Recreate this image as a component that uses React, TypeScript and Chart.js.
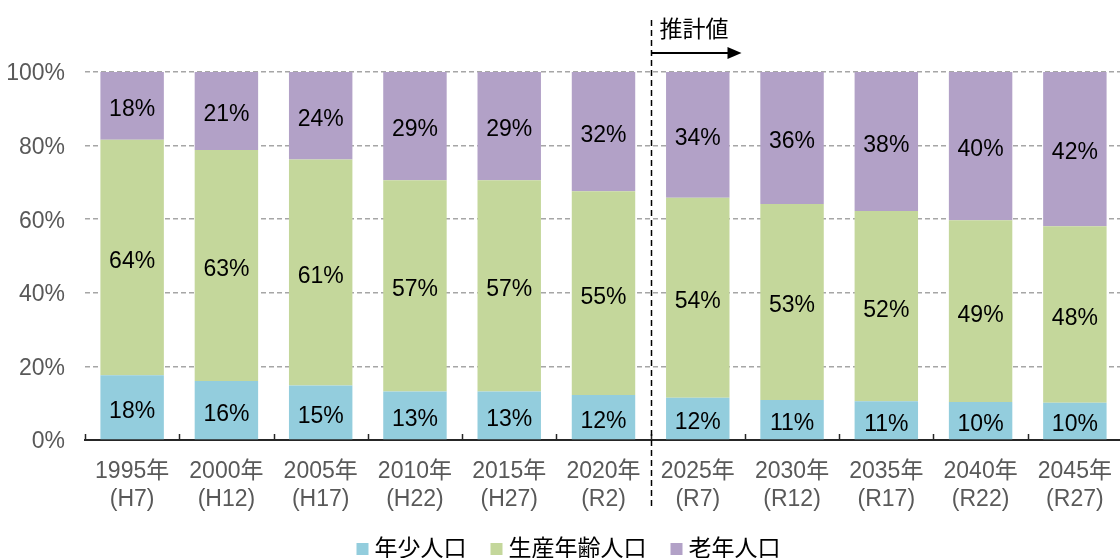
import React, { useEffect, useRef } from "react";
import { Chart, registerables } from "chart.js";

Chart.register(...registerables);

const categories: string[][] = [
  ["1995年", "(H7)"],
  ["2000年", "(H12)"],
  ["2005年", "(H17)"],
  ["2010年", "(H22)"],
  ["2015年", "(H27)"],
  ["2020年", "(R2)"],
  ["2025年", "(R7)"],
  ["2030年", "(R12)"],
  ["2035年", "(R17)"],
  ["2040年", "(R22)"],
  ["2045年", "(R27)"],
];
const youngValues = [17.6, 16.0, 14.8, 13.2, 13.2, 12.2, 11.5, 10.9, 10.5, 10.3, 10.1];
const workingValues = [64.0, 62.8, 61.4, 57.4, 57.4, 55.4, 54.3, 53.2, 51.7, 49.4, 48.0];
const elderlyValues = [18.4, 21.2, 23.8, 29.4, 29.4, 32.4, 34.2, 35.9, 37.8, 40.3, 41.9];
const seriesNames = ["年少人口", "生産年齢人口", "老年人口"];
const seriesColors = ["#93CDDD", "#C4D79B", "#B2A1C7"];
const yTickStep = 20;
const yMax = 100;
const estimateLabel = "推計値";
const estimateStartIndex = 6;

const FONT = "'Liberation Sans', Arial, 'Noto Sans CJK JP', sans-serif";

const overlayPlugin = {
  id: "overlay",
  afterDatasetsDraw(chart: any) {
    const ctx = chart.ctx;
    ctx.save();
    ctx.font = `23px ${FONT}`;
    ctx.fillStyle = "#000000";
    ctx.textAlign = "center";
    ctx.textBaseline = "middle";
    chart.data.datasets.forEach((ds: any, i: number) => {
      const meta = chart.getDatasetMeta(i);
      meta.data.forEach((bar: any, j: number) => {
        const p = bar.getProps(["x", "y", "base"], true);
        const v = ds.data[j];
        ctx.fillText(Math.round(v) + "%", p.x, (p.y + p.base) / 2 + 4);
      });
    });
    ctx.restore();
  },
  afterDraw(chart: any) {
    const ctx = chart.ctx;
    const area = chart.chartArea;
    const n = categories.length;
    const step = (area.right - area.left) / n;
    ctx.save();
    ctx.strokeStyle = "#262626";
    ctx.lineWidth = 1.5;
    for (let k = 0; k <= n; k++) {
      const x = Math.round(area.left + k * step) + 0.5;
      ctx.beginPath();
      ctx.moveTo(x, area.bottom - 6);
      ctx.lineTo(x, area.bottom);
      ctx.stroke();
    }
    ctx.restore();

    const sx = Math.round(area.left + estimateStartIndex * step) + 0.5;
    ctx.save();
    ctx.strokeStyle = "#000000";
    ctx.lineWidth = 1.5;
    ctx.setLineDash([6, 4]);
    ctx.beginPath();
    ctx.moveTo(sx, 20);
    ctx.lineTo(sx, 506);
    ctx.stroke();
    ctx.setLineDash([]);
    ctx.lineWidth = 2;
    ctx.beginPath();
    ctx.moveTo(sx, 53);
    ctx.lineTo(sx + 78, 53);
    ctx.stroke();
    ctx.fillStyle = "#000000";
    ctx.beginPath();
    ctx.moveTo(sx + 76, 47);
    ctx.lineTo(sx + 90, 53);
    ctx.lineTo(sx + 76, 59);
    ctx.closePath();
    ctx.fill();
    ctx.font = `23px ${FONT}`;
    ctx.textAlign = "left";
    ctx.textBaseline = "middle";
    ctx.fillText(estimateLabel, sx + 8, 31);
    ctx.restore();

    ctx.save();
    ctx.font = `23px ${FONT}`;
    ctx.textBaseline = "middle";
    ctx.textAlign = "left";
    const box = 12;
    const gap = 6;
    const spacing = 24;
    const widths = seriesNames.map((s) => box + gap + ctx.measureText(s).width);
    const total = widths.reduce((a, b) => a + b, 0) + spacing * (widths.length - 1);
    let x = 568.5 - total / 2;
    const cy = 549;
    seriesNames.forEach((s, i) => {
      ctx.fillStyle = seriesColors[i];
      ctx.fillRect(x, cy - 6, box, box);
      ctx.fillStyle = "#000000";
      ctx.fillText(s, x + box + gap, cy + 1);
      x += widths[i] + spacing;
    });
    ctx.restore();
  },
};

export default function App() {
  const ref = useRef<HTMLCanvasElement | null>(null);
  useEffect(() => {
    if (!ref.current) return;
    Chart.defaults.font.family = FONT;
    const chart = new Chart(ref.current, {
      type: "bar",
      data: {
        labels: categories,
        datasets: [youngValues, workingValues, elderlyValues].map((d, i) => ({
          label: seriesNames[i],
          data: d,
          backgroundColor: seriesColors[i],
          borderWidth: 0,
          barPercentage: 0.673,
          categoryPercentage: 1.0,
        })),
      },
      options: {
        responsive: false,
        animation: false,
        devicePixelRatio: 1,
        layout: { padding: { top: 72, left: 0, right: 0, bottom: 0 } },
        plugins: { legend: { display: false }, tooltip: { enabled: false } },
        scales: {
          x: {
            stacked: true,
            grid: { display: false, drawTicks: false },
            border: { display: true, color: "#262626", width: 2 },
            ticks: {
              autoSkip: false,
              maxRotation: 0,
              color: "#595959",
              padding: 18,
              font: { size: 23, lineHeight: 1.2, family: FONT },
            },
            afterFit: (s: any) => {
              s.height = 118;
              s.paddingLeft = 0;
              s.paddingRight = 0;
            },
          },
          y: {
            stacked: true,
            min: 0,
            max: yMax,
            grid: {
              drawTicks: false,
              color: (c: any) => (c.tick && c.tick.value === 0 ? "rgba(0,0,0,0)" : "#A6A6A6"),
              lineWidth: 1.5,
            },
            border: { display: false, dash: [5, 3] },
            ticks: {
              stepSize: yTickStep,
              color: "#595959",
              padding: 20,
              labelOffset: 2,
              font: { size: 23, family: FONT },
              callback: (v: any) => v + "%",
            },
            afterFit: (s: any) => {
              s.width = 85;
              s.paddingTop = 0;
              s.paddingBottom = 0;
            },
          },
        },
      },
      plugins: [overlayPlugin],
    } as any);
    return () => chart.destroy();
  }, []);
  return (
    <div style={{ position: "fixed", left: 0, top: 0, width: 1120, height: 558, overflow: "hidden", background: "#ffffff" }}>
      <canvas ref={ref} width={1122} height={558} style={{ width: 1122, height: 558, display: "block" }} />
    </div>
  );
}
